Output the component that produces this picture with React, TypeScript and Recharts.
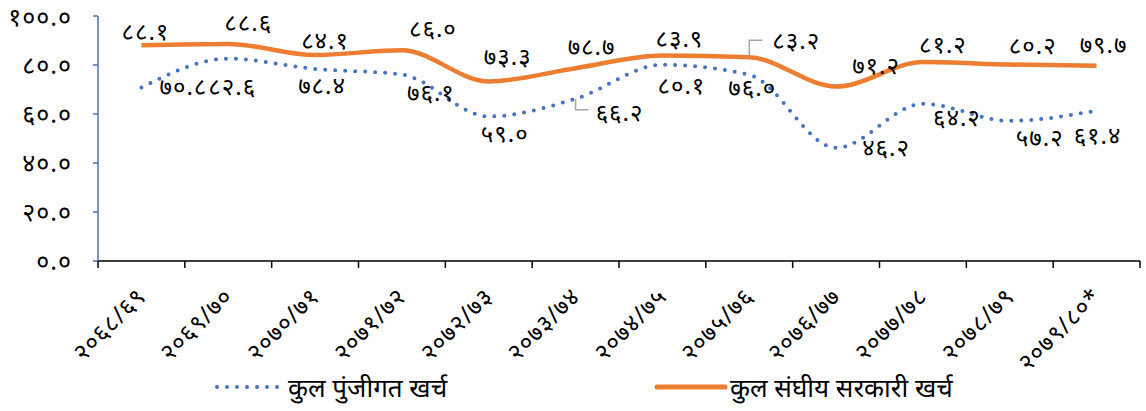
import { LineChart, Line, XAxis, YAxis, LabelList } from "recharts";

const years = [
  "२०६८/६९", "२०६९/७०", "२०७०/७१", "२०७१/७२", "२०७२/७३", "२०७३/७४",
  "२०७४/७५", "२०७५/७६", "२०७६/७७", "२०७७/७८", "२०७८/७९", "२०७९/८०*",
];
const capitalExp = [70.8, 82.6, 78.4, 76.1, 59.0, 66.2, 80.1, 76.0, 46.2, 64.2, 57.2, 61.4];
const federalExp = [88.1, 88.6, 84.1, 86.0, 73.3, 78.7, 83.9, 83.2, 71.2, 81.2, 80.2, 79.7];
const yTicks = [0, 20, 40, 60, 80, 100];

const capitalName = "कुल पुंजीगत खर्च";
const federalName = "कुल संघीय सरकारी खर्च";

// label nudges (label centre relative to its point), set by hand like the original
const federalLabelPos = [[4, -12], [20, -19], [10, -12], [31, -20], [19, -23], [16, -20], [17, -15], [47, -15], [40, -19], [20, -15], [23, -17], [7, -19]];
const capitalLabelPos = [[42, 1], [4, 30], [7, 19], [29, 20], [16, 19], [44, 16], [19, 23], [3, 15], [50, 2], [34, 16], [30, 19], [1, 27]];

const W = 1146;
const H = 411;
const LEFT = 98;
const RIGHT = 6;
const BAND = (W - LEFT - RIGHT) / years.length;
const FONT = "'Noto Sans', 'DejaVu Sans', sans-serif";
const BLUE = "#4472C4";
const ORANGE = "#ED7D31";

const digits = "०१२३४५६७८९";
const toNep = (s: string) => s.replace(/[0-9]/g, (d) => digits[Number(d)]);
const fmt = (v: number) => toNep(v.toFixed(1));

const data = years.map((year, i) => ({
  year,
  capital: capitalExp[i],
  federal: federalExp[i],
}));

function XTick(props: any) {
  const { x, y, payload, index } = props;
  const ax = x + 6;
  const ay = y + 37;
  return (
    <g>
      <line x1={x - BAND / 2} x2={x - BAND / 2} y1={y} y2={y + 7} stroke="#000" strokeWidth={1.5} />
      {index === years.length - 1 && (
        <line x1={x + BAND / 2} x2={x + BAND / 2} y1={y} y2={y + 7} stroke="#000" strokeWidth={1.5} />
      )}
      <text
        x={ax}
        y={ay}
        transform={`rotate(-45 ${ax} ${ay})`}
        textAnchor="end"
        fontSize={24}
        letterSpacing={1}
        fontFamily={FONT}
        fill="#000"
      >
        {payload.value}
      </text>
    </g>
  );
}

function makeLabel(pos: number[][], leader: number | null, leaderDir: number) {
  return (props: any) => {
    const { x, y, value, index } = props;
    const [dx, dy] = pos[index];
    return (
      <g>
        {index === leader && (
          <polyline
            points={`${x},${y} ${x},${y + leaderDir} ${x + 13},${y + leaderDir}`}
            fill="none"
            stroke="#A6A6A6"
            strokeWidth={1.5}
          />
        )}
        <text
          x={x + dx}
          y={y + dy}
          textAnchor="middle"
          dominantBaseline="middle"
          fontSize={24}
          letterSpacing={1}
          fontFamily={FONT}
          fill="#000"
        >
          {fmt(value)}
        </text>
      </g>
    );
  };
}

export default function App() {
  return (
    <div style={{ position: "relative", width: W, height: H, background: "#fff" }}>
      <style>{`body{margin:0}`}</style>
      <LineChart width={W} height={H} data={data} margin={{ top: 16, right: RIGHT, left: 0, bottom: 0 }}>
        <XAxis
          dataKey="year"
          scale="band"
          height={150}
          stroke="#000"
          strokeWidth={1.5}
          tickLine={false}
          tickSize={0}
          tickMargin={0}
          interval={0}
          tick={<XTick />}
        />
        <YAxis
          domain={[0, 100]}
          ticks={yTicks}
          width={LEFT}
          stroke={BLUE}
          strokeWidth={1.5}
          tickSize={5}
          tickMargin={21}
          tickFormatter={fmt}
          tick={{ fill: "#000", fontSize: 25, fontFamily: FONT, letterSpacing: 1 }}
        />
        <Line
          dataKey="capital"
          name={capitalName}
          type="monotone"
          stroke={BLUE}
          strokeWidth={4}
          strokeDasharray="0 10"
          strokeLinecap="round"
          dot={false}
          isAnimationActive={false}
        >
          <LabelList dataKey="capital" content={makeLabel(capitalLabelPos, 5, 11)} />
        </Line>
        <Line
          dataKey="federal"
          name={federalName}
          type="monotone"
          stroke={ORANGE}
          strokeWidth={4.5}
          dot={false}
          isAnimationActive={false}
        >
          <LabelList dataKey="federal" content={makeLabel(federalLabelPos, 7, -17)} />
        </Line>
      </LineChart>
      <div
        style={{
          position: "absolute",
          top: 373,
          left: 0,
          width: W,
          height: 30,
          fontFamily: FONT,
          fontSize: 26,
          color: "#000",
        }}
      >
        <svg width={70} height={30} style={{ position: "absolute", left: 212, top: 0 }}>
          <line x1={5} x2={66} y1={14} y2={14} stroke={BLUE} strokeWidth={4} strokeDasharray="0 10" strokeLinecap="round" />
        </svg>
        <span style={{ position: "absolute", left: 288, top: 0, lineHeight: "28px", whiteSpace: "nowrap" }}>{capitalName}</span>
        <svg width={76} height={30} style={{ position: "absolute", left: 654, top: 0 }}>
          <line x1={3} x2={71} y1={14} y2={14} stroke={ORANGE} strokeWidth={5} strokeLinecap="round" />
        </svg>
        <span style={{ position: "absolute", left: 730, top: 0, lineHeight: "28px", whiteSpace: "nowrap" }}>{federalName}</span>
      </div>
    </div>
  );
}
